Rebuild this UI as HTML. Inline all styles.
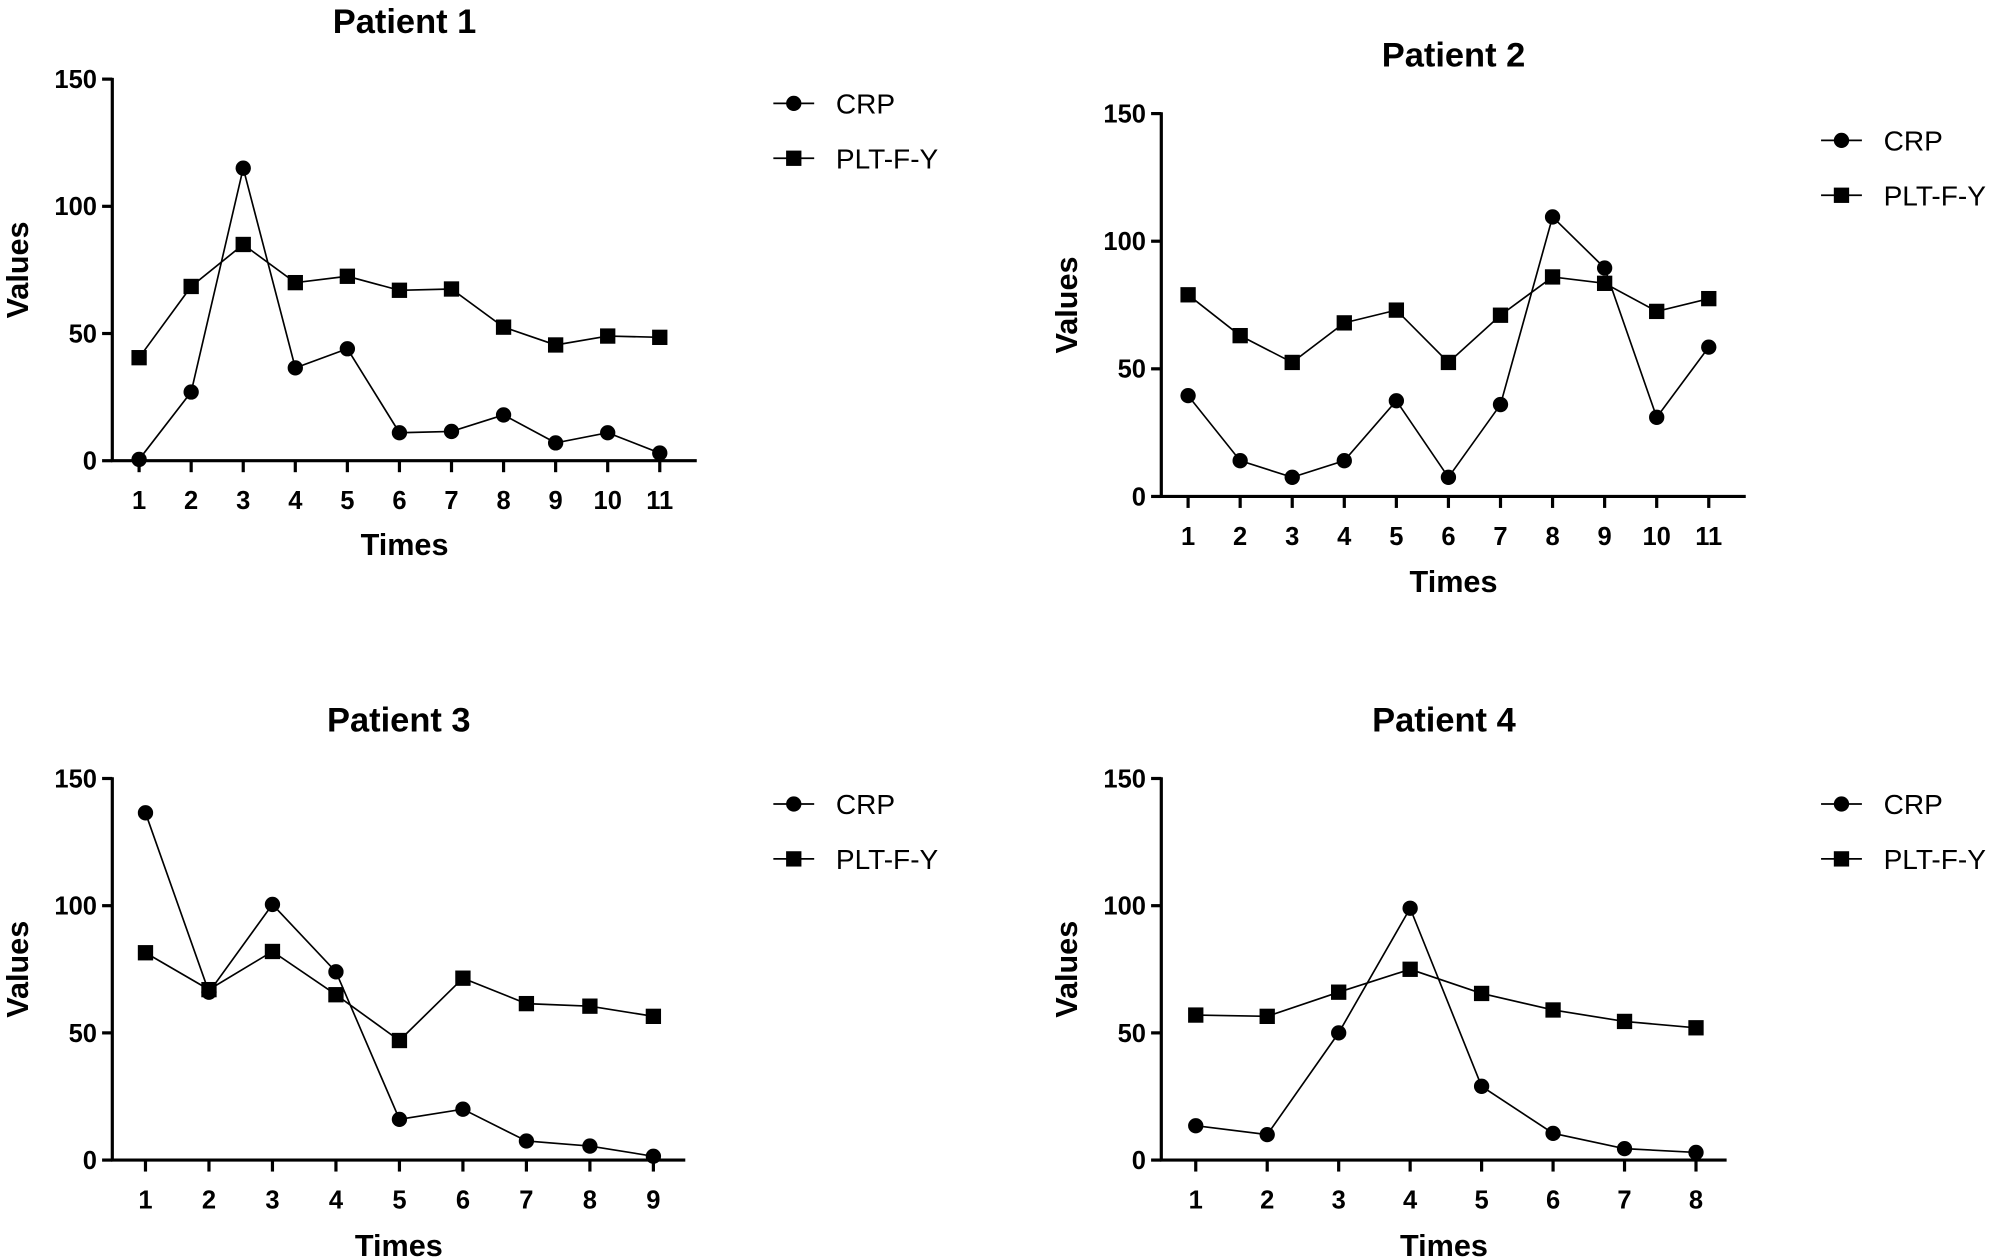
<!DOCTYPE html>
<html><head><meta charset="utf-8"><style>
html,body{margin:0;padding:0;background:#fff;}
svg{display:block;font-family:"Liberation Sans",Arial,sans-serif;}
</style></head><body>
<svg id="c" width="2001" height="1260" viewBox="0 0 1568 987.3" preserveAspectRatio="none"></svg>
<script>
const titles = ["Patient 1","Patient 2","Patient 3","Patient 4"];
const yTicks = [0,50,100,150];
const crp1 = [0.5,27,115,36.5,44,11,11.5,18,7,11,3];
const plt1 = [40.5,68.5,85,70,72.5,67,67.5,52.5,45.5,49,48.5];
const crp2 = [39.5,14,7.5,14,37.5,7.5,36,109.5,89.5,31,58.5];
const plt2 = [79,63,52.5,68,73,52.5,71,86,83.5,72.5,77.5];
const crp3 = [136.5,66,100.5,74,16,20,7.5,5.5,1.5];
const plt3 = [81.5,67,82,65,47,71.5,61.5,60.5,56.5];
const crp4 = [13.5,10,50,99,29,10.5,4.5,3];
const plt4 = [57,56.5,66,75,65.5,59,54.5,52];
const crpSeries = [crp1,crp2,crp3,crp4];
const pltSeries = [plt1,plt2,plt3,plt4];

const layout = [
 {ax:88, yTop:62, yBot:361, x1:109, xN:517, xEnd:546, titleY:26, timesY:435, legX:622, legY:81},
 {ax:910, yTop:89, yBot:389, x1:931, xN:1339, xEnd:1368, titleY:52, timesY:464, legX:1443, legY:110},
 {ax:88, yTop:610, yBot:909, x1:114, xN:512, xEnd:537, titleY:573, timesY:984, legX:622, legY:630},
 {ax:910, yTop:610, yBot:909, x1:937, xN:1329, xEnd:1353, titleY:573, timesY:984, legX:1443, legY:630}
];
const NS="http://www.w3.org/2000/svg";
const svg=document.getElementById('c');
function el(tag,attrs,parent){const e=document.createElementNS(NS,tag);for(const k in attrs)e.setAttribute(k,attrs[k]);(parent||svg).appendChild(e);return e;}
function txt(s,attrs,parent){const t=el('text',attrs,parent);t.textContent=s;return t;}

function circle(g,x,y){return el('circle',{cx:x,cy:y,r:6,fill:'#000'},g);}
function square(g,x,y){return el('rect',{x:x-6,y:y-6,width:12,height:12,fill:'#000'},g);}

layout.forEach((L,i)=>{
  const g=el('g',{});
  
  
  const crp=crpSeries[i], plt=pltSeries[i], n=crp.length;
  const xs=k=>L.x1+(L.xN-L.x1)*k/(n-1);
  const ys=v=>L.yBot-(L.yBot-L.yTop)*v/150;
  const cx=(L.ax+L.xEnd)/2;
  const t=txt(titles[i],{x:cx,y:L.titleY,'text-anchor':'middle','font-size':27,'font-weight':'bold'},g);
  
  
  el('line',{x1:L.ax,y1:L.yTop-1,x2:L.ax,y2:L.yBot+1,stroke:'#000','stroke-width':2.5},g);
  el('line',{x1:L.ax-1,y1:L.yBot,x2:L.xEnd,y2:L.yBot,stroke:'#000','stroke-width':2.5},g);
  yTicks.forEach(v=>{
    el('line',{x1:L.ax-8,y1:ys(v),x2:L.ax,y2:ys(v),stroke:'#000','stroke-width':2.5},g);
    const tl=txt(String(v),{x:L.ax-12,y:ys(v)+7,'text-anchor':'end','font-size':20,'font-weight':'bold'},g);
    
    
  });
  for(let k=0;k<n;k++){
    el('line',{x1:xs(k),y1:L.yBot,x2:xs(k),y2:L.yBot+9,stroke:'#000','stroke-width':2.5},g);
    const tl=txt(String(k+1),{x:xs(k),y:L.yBot+38,'text-anchor':'middle','font-size':20,'font-weight':'bold'},g);
    
    
  }
  const xt=txt('Times',{x:cx,y:L.timesY,'text-anchor':'middle','font-size':24,'font-weight':'bold'},g);
  
  
  const ymid=(L.yTop+L.yBot)/2;
  const yt=txt('Values',{x:0,y:0,'text-anchor':'middle','font-size':24,'font-weight':'bold',transform:`translate(${L.ax-66},${ymid}) rotate(-90)`},g);
  
  
  const sp=el('g',{},g);
  
  
  el('polyline',{points:plt.map((v,k)=>xs(k)+','+ys(v)).join(' '),fill:'none',stroke:'#000','stroke-width':1.3},sp);
  plt.forEach((v,k)=>{const m=square(sp,xs(k),ys(v));});
  const sc=el('g',{},g);
  
  
  el('polyline',{points:crp.map((v,k)=>xs(k)+','+ys(v)).join(' '),fill:'none',stroke:'#000','stroke-width':1.3},sc);
  crp.forEach((v,k)=>{const m=circle(sc,xs(k),ys(v));});
  const lg=el('g',{},g);
  
  
  const e1=el('g',{},lg);
  
  
  el('line',{x1:L.legX-16,y1:L.legY,x2:L.legX+16,y2:L.legY,stroke:'#000','stroke-width':1.3},e1);
  circle(e1,L.legX,L.legY);
  txt('CRP',{x:L.legX+33,y:L.legY+8,'font-size':22},e1);
  const e2=el('g',{},lg);
  
  
  el('line',{x1:L.legX-16,y1:L.legY+43,x2:L.legX+16,y2:L.legY+43,stroke:'#000','stroke-width':1.3},e2);
  square(e2,L.legX,L.legY+43);
  txt('PLT-F-Y',{x:L.legX+33,y:L.legY+51,'font-size':22},e2);
});
</script>
</body></html>
